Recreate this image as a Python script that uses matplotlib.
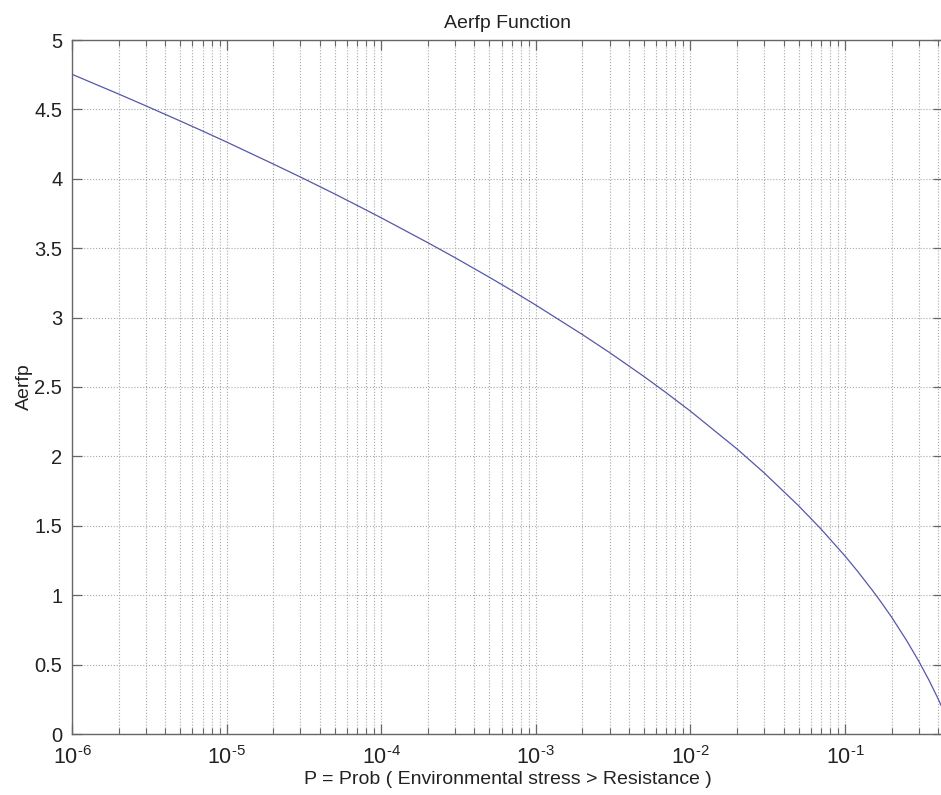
import matplotlib
matplotlib.use("Agg")
import math
import matplotlib.pyplot as plt
from matplotlib.ticker import LogLocator, NullFormatter, MultipleLocator, FormatStrFormatter, FuncFormatter

plt.rcParams['font.family'] = ['Liberation Sans', 'DejaVu Sans']
plt.rcParams['mathtext.fontset'] = 'custom'
plt.rcParams['mathtext.rm'] = 'Liberation Sans'
plt.rcParams['mathtext.it'] = 'Liberation Sans:italic'

# Values
prob = [1e-6, 2e-6, 3e-6, 5e-6, 7e-6,
        1e-5, 2e-5, 3e-5, 5e-5, 7e-5,
        1e-4, 2e-4, 3e-4, 5e-4, 7e-4,
        1e-3, 2e-3, 3e-3, 5e-3, 7e-3,
        1e-2, 2e-2, 3e-2, 5e-2, 7e-2,
        0.1, 0.12, 0.15, 0.17, 0.2, 0.25, 0.3, 0.35, 0.4, 0.43]
aerfp = [4.753, 4.611, 4.526, 4.417, 4.344,
         4.265, 4.107, 4.013, 3.891, 3.808,
         3.719, 3.540, 3.432, 3.291, 3.195,
         3.090, 2.878, 2.748, 2.576, 2.457,
         2.326, 2.054, 1.881, 1.645, 1.476,
         1.282, 1.175, 1.036, 0.954, 0.842, 0.674, 0.524, 0.385, 0.253, 0.176]

title = "Aerfp Function"
xlabel = "P = Prob ( Environmental stress > Resistance )"
ylabel = "Aerfp"

W, H = 941, 795
fig = plt.figure(figsize=(W / 100, H / 100), dpi=100)
left, right, top, bottom = 72, 943, 40, 734
ax = fig.add_axes([left / W, 1 - bottom / H, (right - left) / W, (bottom - top) / H])

ax.semilogx(prob, aerfp, color='#5558a8', lw=0.9)

ax.set_xlim(1e-6, 0.43)
ax.set_ylim(0, 5)
ax.yaxis.set_major_locator(MultipleLocator(0.5))
ax.yaxis.set_major_formatter(FormatStrFormatter('%g'))
ax.xaxis.set_major_locator(LogLocator(base=10, numticks=20))
ax.xaxis.set_minor_locator(LogLocator(base=10, subs=range(2, 10), numticks=20))
ax.xaxis.set_minor_formatter(NullFormatter())


def pow_fmt(v, pos):
    e = int(round(math.log10(v)))
    if e < 0:
        return r'$\mathregular{10^{\text{-}%d}}$' % (-e)
    return r'$\mathregular{10^{%d}}$' % e


ax.xaxis.set_major_formatter(FuncFormatter(pow_fmt))

grid_color = '#a8a8a8'
ax.grid(True, which='major', axis='both', linestyle=':', color=grid_color, lw=0.8)
ax.grid(True, which='minor', axis='x', linestyle=':', color=grid_color, lw=0.8)

spine_color = '#666666'
for s in ax.spines.values():
    s.set_color(spine_color)
    s.set_linewidth(1.0)

ax.tick_params(which='both', direction='in', top=True, right=True, color=spine_color,
               labelsize=14.5, labelcolor='#222222')
ax.tick_params(axis='x', labelsize=15.5)
ax.tick_params(which='major', length=7, width=0.9, pad=7)
ax.tick_params(axis='x', which='major', pad=9)
ax.tick_params(which='minor', length=4, width=0.8)

ax.set_title(title, fontsize=14, color='#222222', pad=9)
ax.set_xlabel(xlabel, fontsize=14, color='#222222', labelpad=1)
ax.set_ylabel(ylabel, fontsize=14, color='#222222', labelpad=1)

fig.savefig('out.png', dpi=100)
